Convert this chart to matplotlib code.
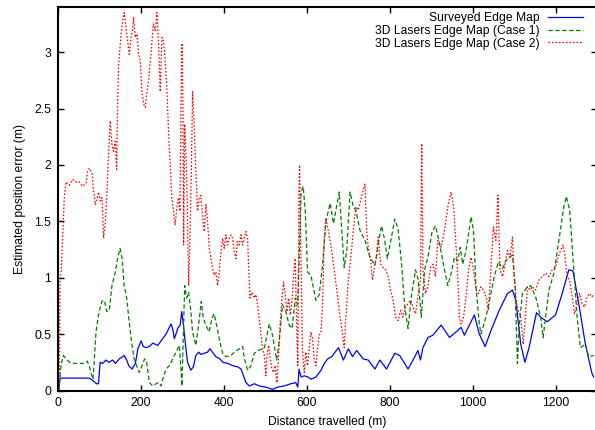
import matplotlib
matplotlib.use("Agg")
import matplotlib.pyplot as plt
from matplotlib.ticker import FormatStrFormatter

plt.rcParams['font.family'] = ['Liberation Sans', 'DejaVu Sans']

# ---------------- data ----------------
surveyed_x = [0, 1, 4, 20, 45, 75, 83, 92, 97, 101, 107, 115, 122, 131, 138, 147, 155, 159, 165, 170,
              178, 186, 192, 200, 205, 212, 220, 228, 240, 252, 260, 268, 272, 276, 280, 284, 288, 294,
              298, 302, 307, 312, 320, 326, 332, 339, 344, 352, 360, 366, 372, 380, 390, 397, 409, 421,
              433, 441, 448, 453, 461, 473, 485, 501, 517, 529, 545, 561, 573, 578, 581, 586, 594, 602,
              610, 622, 634, 642, 650, 660, 676, 688, 700, 710, 720, 736, 748, 764, 776, 792, 812, 824,
              844, 856, 868, 874, 880, 892, 904, 924, 944, 960, 972, 980, 992, 1004, 1016, 1030, 1044,
              1064, 1084, 1096, 1104, 1116, 1126, 1136, 1154, 1164, 1180, 1200, 1216, 1232, 1242, 1256,
              1272, 1288, 1292]
surveyed_y = [0.0, 0.01, 0.11, 0.11, 0.11, 0.11, 0.09, 0.06, 0.06, 0.25, 0.24, 0.27, 0.25, 0.27, 0.24,
              0.28, 0.30, 0.31, 0.27, 0.22, 0.19, 0.24, 0.37, 0.44, 0.39, 0.38, 0.39, 0.42, 0.40, 0.46,
              0.50, 0.56, 0.59, 0.55, 0.46, 0.50, 0.55, 0.58, 0.70, 0.58, 0.40, 0.25, 0.18, 0.21, 0.31,
              0.34, 0.32, 0.33, 0.34, 0.37, 0.34, 0.30, 0.28, 0.25, 0.24, 0.22, 0.21, 0.19, 0.12, 0.07,
              0.04, 0.06, 0.04, 0.03, 0.01, 0.03, 0.04, 0.06, 0.07, 0.03, 0.19, 0.12, 0.13, 0.12, 0.10,
              0.12, 0.18, 0.24, 0.28, 0.30, 0.38, 0.27, 0.37, 0.30, 0.355, 0.28, 0.27, 0.19, 0.27, 0.19,
              0.33, 0.31, 0.19, 0.27, 0.355, 0.27, 0.38, 0.47, 0.49, 0.58, 0.47, 0.52, 0.56, 0.49, 0.58,
              0.67, 0.50, 0.39, 0.53, 0.71, 0.86, 0.89, 0.80, 0.41, 0.25, 0.38, 0.69, 0.65, 0.61, 0.67,
              0.86, 1.07, 1.06, 0.77, 0.41, 0.15, 0.12]

case1_x = [0, 2.5, 6.5, 12, 19, 27, 39, 51, 63, 70, 75, 81, 84, 87, 91, 97, 105, 111, 117, 123, 129.5,
           137.6, 143, 149, 154, 159, 165, 171, 178, 183, 189, 195.5, 202, 208.5, 213, 220, 228, 240,
           248, 252, 260, 268, 276, 284, 292, 296, 298.4, 301.6, 305, 309.7, 314.5, 320, 324, 332,
           338.6, 345, 350, 356, 364, 371, 376, 382, 390, 396.5, 404.6, 416.6, 424.7, 437, 445, 449,
           457, 465, 473, 485, 497, 505, 509, 517, 527, 533, 541, 549, 557, 564, 572, 577.5, 581.5,
           586, 591, 596, 601.5, 609.6, 621.7, 629.7, 637.7, 645.8, 656, 664, 678, 684, 690, 696, 704,
           712, 718, 728, 740, 752, 764, 772, 780, 788, 794, 804, 812, 820, 828, 836, 844, 852, 862,
           868, 876, 884, 892, 902, 910, 920, 932, 940, 948, 956, 964, 970, 976, 984, 996, 1002, 1008,
           1016, 1020, 1032, 1044, 1052, 1062, 1072, 1080, 1088, 1096, 1102, 1108, 1112, 1120, 1132,
           1140, 1152, 1164, 1170, 1176, 1184, 1196, 1208, 1220, 1226, 1234, 1244, 1252, 1260, 1272,
           1280, 1292]
case1_y = [0.0, 0.04, 0.22, 0.31, 0.28, 0.25, 0.24, 0.24, 0.24, 0.26, 0.21, 0.13, 0.10, 0.28, 0.52,
           0.67, 0.79, 0.80, 0.70, 0.71, 0.93, 1.05, 1.17, 1.26, 1.17, 0.93, 0.82, 0.61, 0.40, 0.28,
           0.22, 0.16, 0.22, 0.28, 0.25, 0.07, 0.04, 0.07, 0.04, 0.10, 0.19, 0.22, 0.28, 0.34, 0.40,
           0.19, 0.04, 0.46, 0.93, 0.82, 0.87, 0.70, 0.52, 0.40, 0.58, 0.79, 0.64, 0.58, 0.52, 0.64,
           0.68, 0.58, 0.43, 0.33, 0.30, 0.31, 0.34, 0.37, 0.39, 0.28, 0.18, 0.22, 0.33, 0.36, 0.37,
           0.52, 0.59, 0.49, 0.27, 0.43, 0.76, 0.70, 0.58, 0.55, 0.82, 0.76, 1.20, 1.76, 1.81, 1.59,
           1.05, 1.02, 0.80, 0.85, 1.11, 1.50, 1.66, 1.48, 1.76, 1.42, 1.09, 1.24, 1.76, 1.63, 1.60,
           1.42, 1.33, 1.18, 1.11, 1.30, 1.46, 1.33, 1.17, 1.36, 1.52, 1.43, 1.14, 0.74, 0.55, 0.83,
           1.07, 0.99, 0.65, 1.07, 1.18, 1.41, 1.46, 1.30, 1.07, 0.93, 1.04, 1.18, 1.15, 1.27, 1.12,
           1.24, 1.54, 1.42, 0.92, 0.59, 0.50, 0.65, 0.86, 1.01, 1.14, 1.08, 1.15, 1.18, 1.20, 0.95,
           0.24, 0.56, 0.86, 0.92, 0.93, 0.83, 0.65, 0.47, 0.65, 0.89, 1.04, 1.33, 1.63, 1.72, 1.60,
           1.07, 0.65, 0.38, 0.41, 0.30, 0.31]

case2_x = [0, 2.5, 4, 7, 10.5, 14.5, 18.6, 26.6, 34.7, 42.7, 50.7, 58.8, 66.8, 70.8, 74.9, 81.3, 84.5,
           89.3, 92.6, 97.4, 101.4, 105.4, 109.4, 113.5, 117.5, 121.5, 125.5, 129.5, 133.5, 137.6,
           140.8, 143.2, 145.6, 148.8, 152.1, 155.3, 159.3, 163.3, 167.3, 171.4, 175.4, 179.4, 181.8,
           185.8, 189.9, 193.9, 197.9, 201.9, 206, 210, 214, 218, 223.6, 229.3, 234, 238, 242, 246,
           250, 254, 258, 262, 266, 270, 274, 278, 282, 286, 290.4, 293.6, 296, 298.4, 300.8, 302.5,
           304.9, 308, 311.3, 314.5, 317.7, 321, 324, 327.4, 332, 336, 340.2, 344.3, 348.3, 352.3,
           356.3, 360.3, 364.4, 368.4, 372.4, 376.4, 380.4, 384.5, 388.5, 392.5, 396.5, 400.5, 404.6,
           408.6, 412.6, 416.6, 420.6, 424.7, 428.7, 432.7, 436.7, 440.8, 444.8, 448.8, 452.8, 456.8,
           459.2, 462.5, 467.3, 473, 477, 481, 485, 489, 493, 497, 501, 503.5, 507.5, 511.5, 515.5,
           519.5, 523.5, 527.6, 531.6, 535.6, 539.6, 543.7, 547.7, 551.7, 555.7, 559.7, 563.8, 567.8,
           571.8, 575, 578, 580.7, 582.3, 584.7, 587.1, 589.5, 593.5, 597.5, 601.6, 605.6, 609.6,
           613.6, 617.6, 621.7, 625.7, 629.7, 633.7, 637.7, 641.8, 645.8, 649.8, 656, 664, 672, 680,
           686, 690, 694, 700, 706, 712, 718, 724, 728, 734, 740, 744, 748, 754, 758, 764, 768, 772,
           778, 784, 790, 796, 802, 808, 814, 820, 826, 832, 838, 844, 850, 856, 862, 868, 874, 877,
           880, 886, 892, 898, 904, 910, 916, 924, 932, 940, 948, 954, 960, 964, 968, 972, 978, 984,
           990, 996, 1002, 1008, 1014, 1020, 1026, 1032, 1038, 1044, 1050, 1056, 1061, 1066, 1072,
           1078, 1084, 1090, 1096, 1100, 1106, 1110, 1116, 1122, 1126, 1132, 1138, 1144, 1152, 1160,
           1168, 1176, 1184, 1192, 1200, 1206, 1212, 1218, 1222, 1228, 1234, 1240, 1246, 1252, 1258,
           1264, 1270, 1276, 1282, 1288, 1292]
case2_y = [0.0, 0.01, 0.99, 1.05, 1.35, 1.71, 1.85, 1.82, 1.87, 1.85, 1.85, 1.81, 1.84, 1.94, 1.97,
           1.93, 1.79, 1.65, 1.68, 1.76, 1.68, 1.71, 1.35, 1.50, 1.76, 2.12, 2.39, 2.18, 2.12, 2.21,
           1.96, 2.54, 2.89, 3.04, 3.19, 3.28, 3.35, 3.22, 3.10, 2.98, 3.13, 3.20, 3.31, 3.13, 3.16,
           2.98, 2.92, 2.65, 2.54, 2.51, 2.65, 2.74, 2.98, 3.25, 3.19, 3.35, 3.07, 2.65, 3.13, 3.10,
           2.92, 2.68, 2.30, 2.00, 1.71, 1.59, 1.47, 1.62, 1.71, 1.59, 2.54, 3.08, 2.54, 1.29, 2.36,
           2.09, 1.65, 0.93, 1.35, 1.94, 2.65, 2.39, 1.94, 1.59, 1.71, 1.73, 1.53, 1.41, 1.65, 1.50,
           1.26, 1.17, 1.08, 1.02, 1.05, 0.93, 1.05, 1.23, 1.35, 1.26, 1.38, 1.29, 1.35, 1.38, 1.35,
           1.23, 1.17, 1.32, 1.29, 1.38, 1.29, 1.35, 1.41, 1.35, 1.11, 0.82, 0.87, 0.82, 0.85, 0.76,
           0.64, 0.49, 0.37, 0.31, 0.13, 0.31, 0.40, 0.28, 0.19, 0.16, 0.22, 0.07, 0.31, 0.61, 0.82,
           0.96, 0.85, 0.70, 0.82, 0.67, 0.79, 1.02, 1.17, 0.61, 0.22, 1.71, 2.00, 1.35, 0.82, 0.34,
           0.16, 0.34, 0.22, 0.37, 0.52, 0.46, 0.28, 0.22, 0.37, 0.49, 0.52, 0.76, 1.35, 1.53, 1.45,
           1.33, 1.12, 0.89, 0.65, 0.50, 0.38, 0.65, 0.98, 1.18, 1.42, 1.63, 1.60, 1.66, 1.75, 1.83,
           1.42, 1.27, 1.15, 0.98, 1.12, 1.18, 1.36, 1.12, 1.09, 1.07, 1.01, 0.89, 0.80, 0.65, 0.62,
           0.71, 0.65, 0.74, 0.77, 0.80, 0.74, 0.68, 0.83, 0.98, 2.19, 1.07, 0.86, 0.92, 1.09, 1.12,
           1.01, 1.33, 1.27, 1.42, 1.63, 1.76, 1.63, 1.27, 1.01, 0.65, 0.59, 0.65, 0.83, 1.07, 1.18,
           1.07, 0.89, 0.86, 0.92, 0.89, 0.83, 0.71, 1.07, 1.45, 1.33, 1.73, 1.07, 1.01, 1.12, 1.24,
           1.18, 1.36, 1.01, 0.77, 0.71, 0.65, 0.41, 0.59, 0.92, 0.89, 0.92, 0.89, 0.98, 1.01, 1.04,
           1.01, 1.07, 1.09, 1.18, 1.24, 1.29, 1.21, 1.01, 0.98, 0.83, 0.68, 0.77, 0.86, 0.77, 0.74,
           0.83, 0.86, 0.83, 0.86]

series_labels = ["Surveyed Edge Map", "3D Lasers Edge Map (Case 1)", "3D Lasers Edge Map (Case 2)"]
x_ticks = [0, 200, 400, 600, 800, 1000, 1200]
y_ticks = [0, 0.5, 1, 1.5, 2, 2.5, 3]
x_label = "Distance travelled (m)"
y_label = "Estimated position error (m)"

# ---------------- figure ----------------
W, H = 595, 430
fig = plt.figure(figsize=(W / 100, H / 100), dpi=100)
left, right, bottom, top = 58.3, 597.0, 390.5, 7.0
ax = fig.add_axes([left / W, 1 - bottom / H, (right - left) / W, (bottom - top) / H])

ax.plot(surveyed_x, surveyed_y, color='#0000ff', lw=0.9, label=series_labels[0])
ax.plot(case1_x, case1_y, color='#008000', lw=0.9, dashes=(3.5, 2.0), label=series_labels[1])
ax.plot(case2_x, case2_y, color='#ff0000', lw=0.9, dashes=(1.3, 1.5), label=series_labels[2])

ax.set_xlim(0, 1300)
ax.set_ylim(0, 3.4)
ax.set_xticks(x_ticks)
ax.set_yticks(y_ticks)
ax.xaxis.set_major_formatter(FormatStrFormatter('%g'))
ax.yaxis.set_major_formatter(FormatStrFormatter('%g'))
ax.tick_params(direction='in', length=4.5, width=1.0, top=True, right=True,
               labelsize=8.7, colors='black', pad=5)
for s in ax.spines.values():
    s.set_linewidth(1.5)
    s.set_color('black')

ax.set_xlabel(x_label, fontsize=8.7, labelpad=5)
ax.set_ylabel(y_label, fontsize=8.7, labelpad=6)

fs_px = 8.7 * 100 / 72
leg = ax.legend(loc='upper right', bbox_to_anchor=(583 / W, 1 - 12.5 / H),
                bbox_transform=fig.transFigure, frameon=False, markerfirst=False,
                fontsize=8.7, handlelength=35 / fs_px, handletextpad=8 / fs_px,
                labelspacing=0.05, borderpad=0, borderaxespad=0)

fig.savefig("out.png", dpi=100)
